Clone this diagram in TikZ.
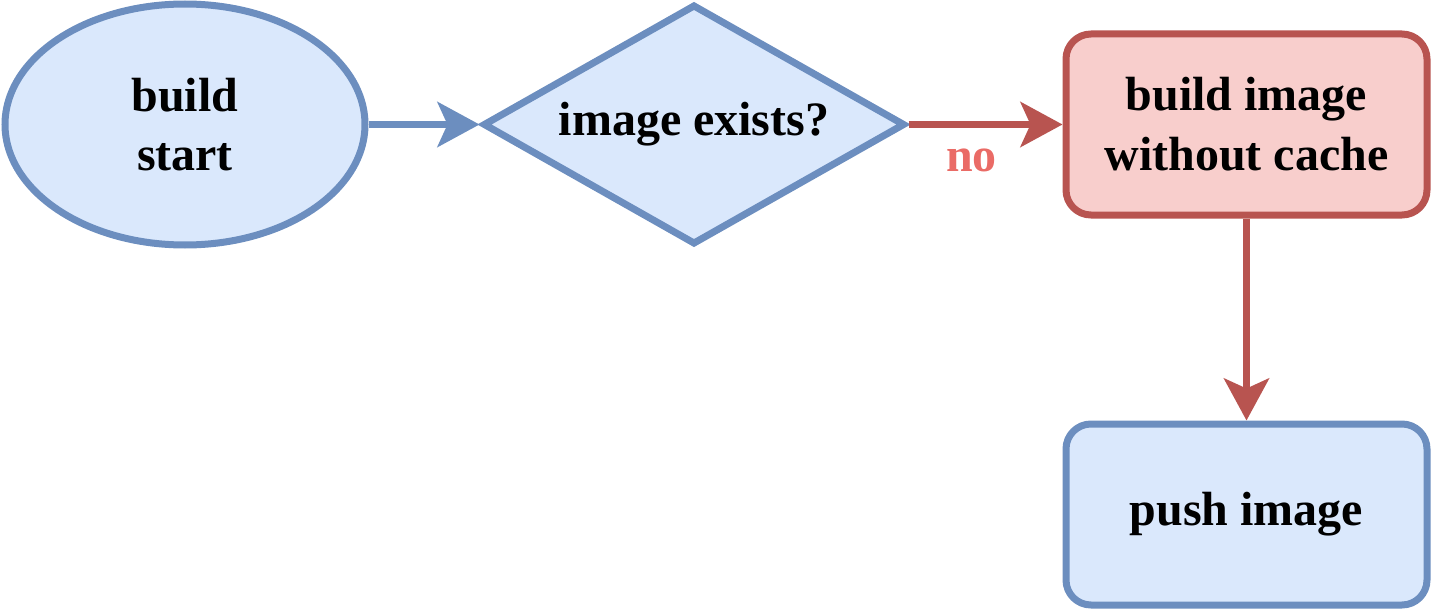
\documentclass[tikz,border=0pt]{standalone}
\usepackage{fontspec}
\setmainfont{Liberation Serif}
\usetikzlibrary{positioning,shapes.geometric,arrows.meta}
\definecolor{blueFill}{HTML}{DAE8FC}
\definecolor{blueLine}{HTML}{6C8EBF}
\definecolor{redFill}{HTML}{F8CECC}
\definecolor{redLine}{HTML}{B85450}
\definecolor{noText}{HTML}{EA6B66}
\begin{document}
\begin{tikzpicture}[line width=0.14cm,
  font=\fontsize{27.3}{34}\selectfont\bfseries,
  bluenode/.style={draw=blueLine, fill=blueFill, align=center, inner sep=0},
  rednode/.style={draw=redLine, fill=redFill, align=center, inner sep=0},
  flowbox/.style={rectangle, rounded corners=0.5cm, minimum width=7.22cm, minimum height=3.62cm},
  arr/.style={-{Stealth[length=0.84cm, width=0.9cm, inset=0.2cm]}}]
\useasboundingbox (0,0) rectangle (28.68,-12.24);
\node[bluenode, ellipse, minimum width=7.2cm, minimum height=4.82cm] (start) at (3.7,-2.49) {build\\start};
\node[bluenode, diamond, aspect=1.76, minimum width=8.44cm, minimum height=4.8cm, right=2.22cm of start] (check) {image exists?};
\node[rednode, flowbox, right=3.08cm of check] (build) {build image\\without cache};
\node[bluenode, flowbox, below=4.04cm of build] (push) {push image};
\draw[arr, blueLine] (start) -- (check);
\draw[arr, redLine] (check) -- node[pos=0.41, below=0.32cm, inner sep=0.1cm, text=noText] (no) {no} (build);
\draw[arr, redLine] (build) -- (push);
\end{tikzpicture}
\end{document}
